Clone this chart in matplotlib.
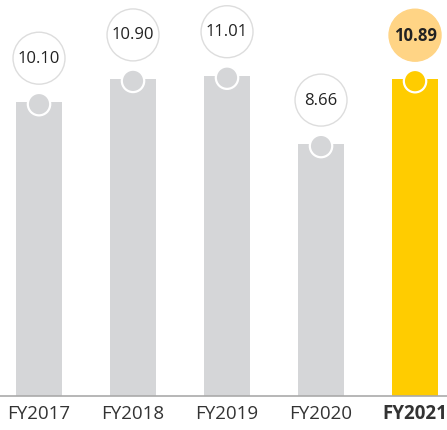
import matplotlib.pyplot as plt
import numpy as np

# Datos
years = ['FY2017', 'FY2018', 'FY2019', 'FY2020', 'FY2021']
values = [10.10, 10.90, 11.01, 8.66, 10.89]
labels = ['10.10', '10.90', '11.01', '8.66', '10.89']

grey = '#D5D6D8'
yellow = '#FFCC00'
label_fill = '#FFD485'

plt.rcParams['font.family'] = ['Open Sans', 'DejaVu Sans']

fig = plt.figure(figsize=(4.47, 4.30), dpi=100)
ax = fig.add_axes([0, 0, 1, 1])

x = np.arange(len(years))
colors = [grey] * 4 + [yellow]
ax.bar(x, values, width=0.49, color=colors, zorder=2)

# Línea base
ax.axhline(0, color='#AAAAAA', linewidth=1.2, zorder=3)

# Círculos pequeños en la parte superior de cada barra
ax.scatter(x, np.array(values) - 0.07, s=260, c=colors,
           edgecolors='white', linewidths=1.6, zorder=4)

# Círculos con las etiquetas de valor
label_y = np.array(values) + 1.51
fills = ['white'] * 4 + [label_fill]
edges = ['#DDDDDD'] * 4 + [label_fill]
ax.scatter(x, label_y, s=1400, c=fills, edgecolors=edges,
           linewidths=1.0, zorder=4)

for i, txt in enumerate(labels):
    bold = i == len(labels) - 1
    ax.text(x[i], label_y[i] - 0.02, txt, ha='center', va='center',
            fontsize=12, color='#222222',
            fontweight='bold' if bold else 'normal', zorder=5)
    ax.text(x[i], -0.62, years[i], ha='center', va='center',
            fontsize=13.5, color='#333333',
            fontweight='bold' if bold else 'normal')

ax.set_xlim(-0.415, 4.34)
ax.set_ylim(-1.168, 13.61)
ax.axis('off')

fig.savefig('out.png', dpi=100)
